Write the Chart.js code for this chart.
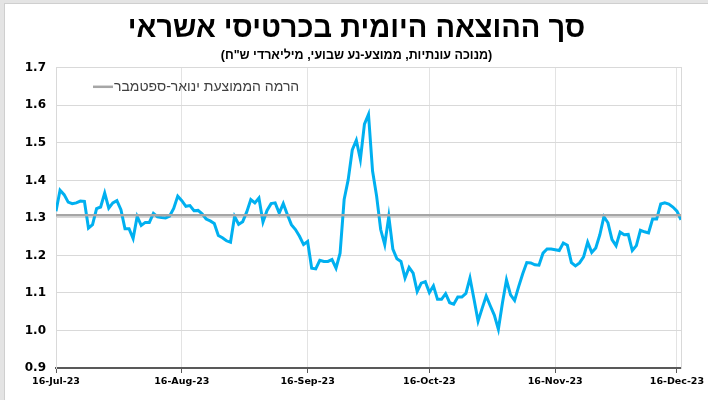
<!DOCTYPE html>
<html lang="he">
<head>
<meta charset="utf-8">
<script src="https://cdn.jsdelivr.net/npm/chart.js@4.4.0/dist/chart.umd.min.js"></script>
<style>
  html, body { margin: 0; padding: 0; background: #e4e4e4; }
  #frame {
    position: absolute; left: 4px; top: 3px;
    width: 704px; height: 397px;
    background: #fff;
    border-left: 1px solid #cfcfcf;
    border-top: 1px solid #cfcfcf;
  }
</style>
</head>
<body>
<div id="frame"><canvas id="spendChart" width="703" height="396"></canvas></div>
<script>
// daily values from 16-Jul-23 (day 0) to 16-Dec-23
const spendValues = [
  1.318, 1.374, 1.362, 1.342, 1.338, 1.340, 1.345, 1.344, 1.273, 1.282,
  1.325, 1.329, 1.366, 1.326, 1.340, 1.346, 1.322, 1.271, 1.271, 1.245,
  1.304, 1.280, 1.288, 1.288, 1.312, 1.303, 1.301, 1.300, 1.305, 1.325,
  1.358, 1.346, 1.331, 1.333, 1.319, 1.320, 1.311, 1.297, 1.292, 1.285,
  1.253, 1.247, 1.239, 1.235, 1.304, 1.283, 1.290, 1.316, 1.349, 1.340,
  1.353, 1.289, 1.320, 1.338, 1.340, 1.313, 1.338, 1.309, 1.282, 1.269,
  1.251, 1.229, 1.237, 1.166, 1.164, 1.187, 1.184, 1.184, 1.189, 1.166,
  1.206, 1.349, 1.402, 1.481, 1.507, 1.456, 1.550, 1.576, 1.425, 1.358,
  1.269, 1.229, 1.304, 1.217, 1.191, 1.184, 1.140, 1.168, 1.153, 1.104,
  1.126, 1.130, 1.101, 1.119, 1.083, 1.083, 1.098, 1.074, 1.070, 1.089,
  1.089, 1.099, 1.140, 1.083, 1.025, 1.059, 1.092, 1.066, 1.041, 1.003,
  1.073, 1.135, 1.095, 1.080, 1.117, 1.151, 1.181, 1.180, 1.175, 1.174,
  1.206, 1.217, 1.217, 1.215, 1.213, 1.233, 1.227, 1.181, 1.172, 1.180,
  1.196, 1.235, 1.208, 1.220, 1.255, 1.303, 1.287, 1.242, 1.226, 1.262,
  1.255, 1.256, 1.213, 1.226, 1.267, 1.263, 1.260, 1.297, 1.297, 1.337,
  1.340, 1.337, 1.329, 1.318, 1.295
];
const avgLevel = 1.307;
const avgLabel = 'הרמה הממוצעת ינואר-ספטמבר';

const tickDays = [0, 31, 62, 92, 123, 153];
const tickLabels = ['16-Jul-23', '16-Aug-23', '16-Sep-23', '16-Oct-23', '16-Nov-23', '16-Dec-23'];
const lastDay = spendValues.length - 1;

const titleText = 'סך ההוצאה היומית בכרטיסי אשראי';
const subtitleText = '(מנוכה עונתיות, ממוצע-נע שבועי, מיליארדי ש"ח)';

const hebFont = "'Liberation Sans', Arial, sans-serif";
const tickFont = "'DejaVu Sans', Verdana, sans-serif";

// legend drawn inside the plot, line sample on the left of the text
const innerLegend = {
  id: 'innerLegend',
  afterDraw(chart) {
    const ctx = chart.ctx;
    const ds = chart.data.datasets[0];
    const x0 = chart.chartArea.left + 37;
    const y0 = chart.chartArea.top + 19;
    ctx.save();
    ctx.strokeStyle = ds.borderColor;
    ctx.lineWidth = ds.borderWidth;
    ctx.beginPath();
    ctx.moveTo(x0, y0);
    ctx.lineTo(x0 + 20, y0);
    ctx.stroke();
    ctx.fillStyle = '#404040';
    ctx.font = '14px ' + hebFont;
    ctx.direction = 'rtl';
    ctx.textAlign = 'left';
    ctx.textBaseline = 'middle';
    ctx.fillText(avgLabel, x0 + 21, y0);
    ctx.restore();
  }
};

const ctx = document.getElementById('spendChart').getContext('2d');

const chart = new Chart(ctx, {
  type: 'line',
  data: {
    datasets: [
      {
        label: avgLabel,
        data: [{ x: 0, y: avgLevel }, { x: lastDay, y: avgLevel }],
        borderColor: '#a6a6a6',
        borderWidth: 2.5,
        pointRadius: 0
      },
      {
        label: 'spend',
        data: spendValues.map((v, i) => ({ x: i, y: v })),
        borderColor: '#00b0f0',
        borderWidth: 3,
        pointRadius: 0
      }
    ]
  },
  options: {
    responsive: false,
    animation: false,
    layout: { padding: 0 },
    plugins: {
      legend: { display: false },
      tooltip: { enabled: false },
      title: {
        display: true,
        text: titleText,
        color: '#000',
        font: { family: hebFont, size: 29, weight: 'bold' },
        padding: { top: 8, bottom: 0 }
      },
      subtitle: {
        display: true,
        text: subtitleText,
        color: '#000',
        font: { family: hebFont, size: 12.5, weight: 'bold' },
        padding: { top: 1, bottom: 5 }
      }
    },
    scales: {
      x: {
        type: 'linear',
        min: 0,
        max: lastDay,
        afterBuildTicks: scale => {
          scale.ticks = tickDays.map(v => ({ value: v })).concat([{ value: lastDay }]);
        },
        afterFit: scale => { scale.height = 32; },
        ticks: {
          autoSkip: false,
          maxRotation: 0,
          padding: 3,
          color: '#000',
          font: { family: tickFont, size: 9.5, weight: 'bold' },
          callback: value => {
            const i = tickDays.indexOf(value);
            return i >= 0 ? tickLabels[i] : '';
          }
        },
        grid: {
          color: '#e3e3e3',
          tickLength: 5,
          tickColor: c => (c.tick && c.tick.value === lastDay ? 'rgba(0,0,0,0)' : '#595959')
        },
        border: { color: '#595959', width: 2 }
      },
      y: {
        min: 0.9,
        max: 1.7,
        afterFit: scale => { scale.width = 51; },
        ticks: {
          stepSize: 0.1,
          padding: 10,
          color: '#000',
          font: { family: tickFont, size: 12, weight: 'bold' },
          callback: v => v.toFixed(1)
        },
        grid: { color: '#d9d9d9', drawTicks: false },
        border: { color: '#d9d9d9' }
      },
      // empty right-hand axis: keeps the right margin and draws the plot's right edge
      yRight: {
        position: 'right',
        min: 0.9,
        max: 1.7,
        afterFit: scale => { scale.width = 27; },
        ticks: { display: false },
        grid: { drawOnChartArea: false, drawTicks: false },
        border: { color: '#d9d9d9' }
      }
    }
  },
  plugins: [innerLegend]
});
</script>
</body>
</html>
